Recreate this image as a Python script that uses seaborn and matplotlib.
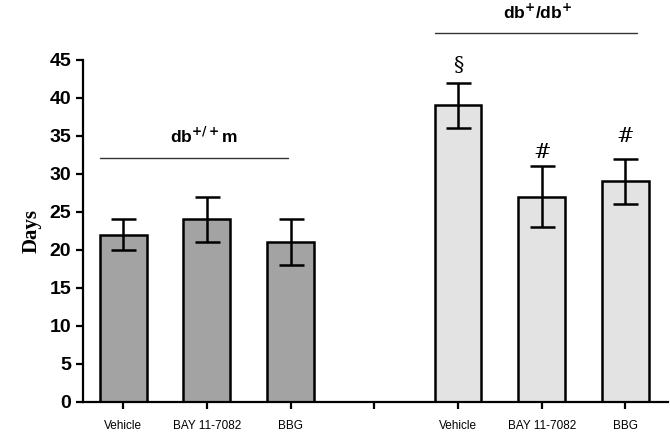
import pandas as pd
import matplotlib
matplotlib.use('Agg')
import matplotlib.pyplot as plt
import seaborn as sns

# Data
slots = ['m_veh', 'm_bay', 'm_bbg', 'gap', 'db_veh', 'db_bay', 'db_bbg']
tick_labels = ['Vehicle', 'BAY 11-7082', 'BBG', '', 'Vehicle', 'BAY 11-7082', 'BBG']
bar_ids = ['m_veh', 'm_bay', 'm_bbg', 'db_veh', 'db_bay', 'db_bbg']
days = [22, 24, 21, 39, 27, 29]
sem = [2, 3, 3, 3, 4, 3]
marks = ['', '', '', '§', '#', '#']
mark_y = [0, 0, 0, 44.3, 32.8, 34.9]
groups = ['db$^{+/+}$m', 'db$^{+}$/db$^{+}$']

palette = {'m_veh': '#a3a3a3', 'm_bay': '#a3a3a3', 'm_bbg': '#a3a3a3',
           'db_veh': '#e3e3e3', 'db_bay': '#e3e3e3', 'db_bbg': '#e3e3e3'}

df = pd.DataFrame({'slot': bar_ids, 'days': days})

sns.set_style('ticks')
plt.rcParams['font.family'] = ['Liberation Sans', 'DejaVu Sans']
plt.rcParams['text.color'] = 'black'
plt.rcParams['axes.labelcolor'] = 'black'
plt.rcParams['xtick.color'] = 'black'
plt.rcParams['ytick.color'] = 'black'
plt.rcParams['mathtext.default'] = 'bf'

fig = plt.figure(figsize=(6.7, 4.34), dpi=100)
ax = fig.add_axes([0.124, 0.074, 0.873, 0.788])

sns.barplot(data=df, x='slot', y='days', order=slots, hue='slot', palette=palette,
            legend=False, width=0.56, edgecolor='black', linewidth=1.8, errorbar=None, ax=ax)

xpos = [slots.index(b) for b in bar_ids]
ax.errorbar(xpos, days, yerr=sem, fmt='none', ecolor='black', elinewidth=1.8,
            capsize=9, capthick=1.8, zorder=5)

for x, m, y in zip(xpos, marks, mark_y):
    if m:
        ax.text(x, y, m, ha='center', va='center', fontsize=15, family='DejaVu Serif')

# group bars and labels
ax.plot([-0.28, 1.97], [32.1, 32.1], color='#333333', lw=1.0, clip_on=False)
ax.text(0.97, 35.0, groups[0], ha='center', va='center', fontsize=12.5, fontweight='bold')
ax.plot([3.72, 6.14], [48.6, 48.6], color='#333333', lw=1.0, clip_on=False)
ax.text(4.95, 51.3, groups[1], ha='center', va='center', fontsize=12.5, fontweight='bold',
        clip_on=False)

ax.set_xlim(-0.48, 6.51)
ax.set_ylim(0, 45)
ax.set_yticks(range(0, 46, 5))
ax.set_xticks(range(len(slots)))
ax.set_xticklabels(tick_labels, fontsize=8.5)
ax.set_xlabel('')
ax.set_ylabel('Days', family='Liberation Serif', fontsize=15, fontweight='bold', labelpad=6)
for lab in ax.get_yticklabels():
    lab.set_fontsize(14)
    lab.set_fontweight('bold')

sns.despine(ax=ax)
for s in ['left', 'bottom']:
    ax.spines[s].set_linewidth(1.6)
    ax.spines[s].set_color('black')
ax.tick_params(axis='both', width=1.6, length=5, color='black')
ax.tick_params(axis='x', pad=8)

fig.savefig('out.png', dpi=100)
